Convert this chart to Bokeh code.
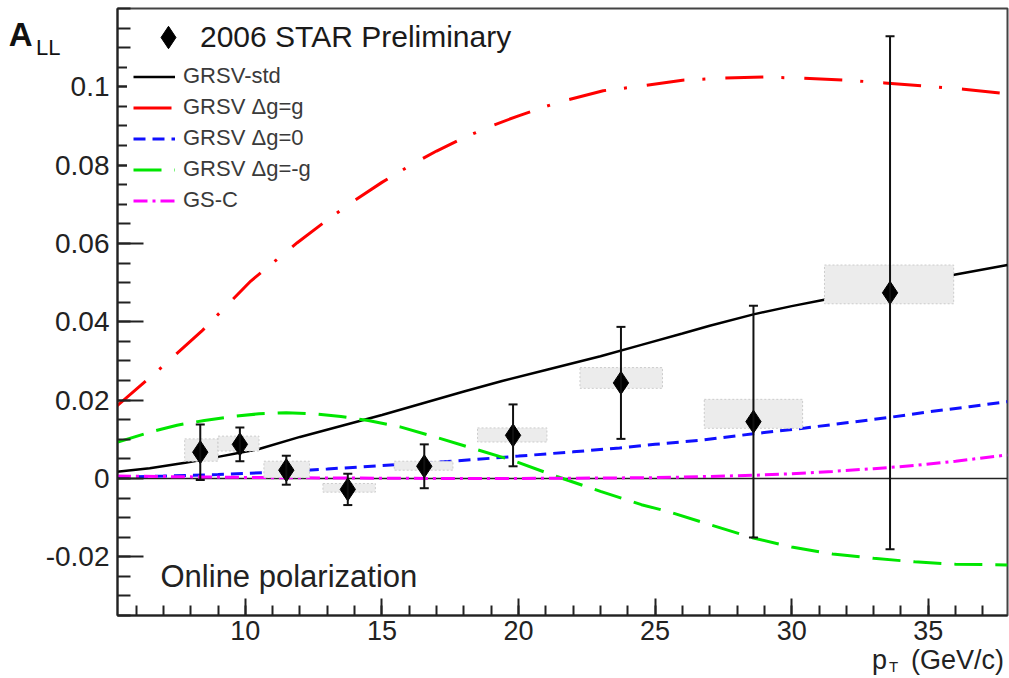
from bokeh.plotting import figure
from bokeh.models import (ColumnDataSource, Legend, LegendItem, Whisker, TeeHead,
                          Span, Label, FixedTicker, CustomJSTickFormatter, LinearAxis)
from bokeh.embed import file_html
from bokeh.resources import INLINE

# ---------------- data ----------------
pt = [8.35, 9.8, 11.5, 13.75, 16.55, 19.8, 23.75, 28.6, 33.6]
a_ll = [0.0067, 0.0087, 0.0021, -0.0028, 0.0031, 0.0110, 0.0244, 0.0145, 0.0474]
stat_err = [0.0071, 0.0043, 0.0037, 0.0040, 0.0056, 0.0079, 0.0143, 0.0296, 0.0655]
sys_left = [7.78, 9.0, 10.68, 12.84, 15.45, 18.5, 22.25, 26.8, 31.2]
sys_right = [9.0, 10.5, 12.35, 14.76, 17.6, 21.04, 25.27, 30.4, 35.93]
sys_low = [0.0044, 0.0070, 0.0002, -0.0035, 0.0021, 0.0093, 0.0230, 0.0128, 0.0446]
sys_high = [0.0101, 0.0108, 0.0044, -0.0013, 0.0044, 0.0129, 0.0283, 0.0202, 0.0545]

std_x = [5.3, 6.5, 7.8, 9.0, 10.5, 12.0, 13.5, 15.0, 16.5, 18.0, 19.4, 21.0, 23.0,
         24.5, 26.0, 27.0, 28.6, 30.0, 31.1, 32.5, 34.0, 36.0, 37.9]
std_y = [0.0017, 0.0026, 0.0040, 0.0055, 0.0075, 0.0106, 0.0134, 0.0162, 0.0192, 0.0222,
         0.0249, 0.0277, 0.0312, 0.0341, 0.0370, 0.0390, 0.0419, 0.0440, 0.0455, 0.0474,
         0.0494, 0.0521, 0.0545]

g_x = [5.3, 7.05, 8.4, 10.2, 11.9, 13.0, 14.0, 15.0, 16.0, 17.0, 18.0, 19.0, 20.0, 21.0,
       21.55, 23.1, 24.5, 26.0, 27.4, 29.0, 30.4, 32.0, 33.4, 34.9, 36.3, 37.9]
g_y = [0.0185, 0.0291, 0.0376, 0.0504, 0.0602, 0.0660, 0.0710, 0.0756, 0.0798, 0.0836,
       0.0870, 0.0900, 0.0926, 0.0950, 0.0962, 0.0990, 0.1002, 0.1017, 0.1022, 0.1025,
       0.1022, 0.1017, 0.1010, 0.1002, 0.0994, 0.0982]

zero_x = [5.3, 7.0, 9.0, 11.0, 13.0, 15.0, 17.6, 20.0, 22.0, 23.7, 25.0, 26.7, 28.6,
          30.5, 32.0, 33.6, 35.0, 36.5, 37.9]
zero_y = [0.0003, 0.0006, 0.0010, 0.0016, 0.0024, 0.0033, 0.0044, 0.0057, 0.0068, 0.0078,
          0.0087, 0.0098, 0.0114, 0.0129, 0.0142, 0.0156, 0.0170, 0.0183, 0.0196]

neg_x = [5.3, 6.5, 7.5, 8.5, 9.5, 10.5, 11.5, 12.5, 13.5, 14.5, 15.7, 17.0, 18.5, 19.7,
         21.4, 23.0, 24.5, 25.5, 27.0, 28.6, 30.0, 31.5, 33.0, 34.5, 36.0, 37.9]
neg_y = [0.0092, 0.0118, 0.0136, 0.0148, 0.0158, 0.0165, 0.0168, 0.0165, 0.0158, 0.0148,
         0.0131, 0.0105, 0.0073, 0.0048, 0.0005, -0.0033, -0.0067, -0.0085, -0.0118,
         -0.0152, -0.0175, -0.0193, -0.0204, -0.0213, -0.0219, -0.0221]

gsc_x = [5.3, 8.0, 11.0, 14.0, 17.0, 20.0, 23.0, 25.0, 27.0, 28.6, 30.0, 31.5, 33.0,
         34.5, 36.0, 37.9]
gsc_y = [0.0006, 0.0004, 0.0002, 0.0001, 0.0000, 0.0000, 0.0001, 0.0002, 0.0005, 0.0008,
         0.0012, 0.0018, 0.0025, 0.0033, 0.0044, 0.0060]

x_major = [10, 15, 20, 25, 30, 35]
y_major = [-0.02, 0.0, 0.02, 0.04, 0.06, 0.08, 0.1]

FONT = "Liberation Sans"
X0, X1 = 5.32, 37.9
Y0, Y1 = -0.035, 0.12
L, R, T, B = 117, 2, 8, 63
W, H = 1009, 678
FW, FH = W - L - R, H - T - B


def px2x(px):
    return X0 + (px - L) * (X1 - X0) / FW


def py2y(py):
    return Y1 - (py - T) * (Y1 - Y0) / FH


p = figure(width=W, height=H, x_range=(X0, X1), y_range=(Y0, Y1),
           output_backend="svg", toolbar_location=None,
           min_border_left=L, min_border_right=R, min_border_top=T, min_border_bottom=B)
p.xgrid.visible = False
p.ygrid.visible = False
p.outline_line_color = "#444444"
p.outline_line_width = 2
p.background_fill_color = "white"
p.border_fill_color = "white"

p.xaxis.ticker = FixedTicker(ticks=x_major, minor_ticks=list(range(6, 38)))
p.yaxis.ticker = FixedTicker(ticks=y_major,
                             minor_ticks=[round(-0.035 + 0.005 * i, 3) for i in range(32)])
p.yaxis.formatter = CustomJSTickFormatter(
    code="return tick == 0 ? '0' : (Math.round(tick*1000)/1000).toString();")
for ax in (p.xaxis, p.yaxis):
    ax.axis_line_width = 2
    ax.axis_line_color = "#222222"
    ax.major_tick_line_width = 2
    ax.minor_tick_line_width = 2
    ax.major_tick_line_color = "#222222"
    ax.minor_tick_line_color = "#222222"
    ax.major_tick_out = 0
    ax.minor_tick_out = 0
    ax.major_label_text_font = FONT
    ax.major_label_text_color = "#222222"
p.yaxis.major_label_text_font_size = "28px"
p.xaxis.major_label_text_font_size = "27px"
p.yaxis.major_tick_in = 26
p.yaxis.minor_tick_in = 13
p.yaxis.major_label_standoff = 8
p.xaxis.major_tick_in = 17
p.xaxis.minor_tick_in = 10
p.xaxis.major_label_standoff = 5


def text_axis(side, ticks, labels, size, standoff, color="#222222", style="normal"):
    js_labels = "[" + ",".join("'%s'" % s for s in labels) + "]"
    ax = LinearAxis(ticker=FixedTicker(ticks=ticks, minor_ticks=[]),
                    formatter=CustomJSTickFormatter(code="return %s[index];" % js_labels),
                    axis_line_color=None, major_tick_line_color=None,
                    minor_tick_line_color=None, major_tick_in=0, major_tick_out=0,
                    minor_tick_in=0, minor_tick_out=0,
                    major_label_text_font=FONT, major_label_text_font_size=size,
                    major_label_text_font_style=style,
                    major_label_text_color=color, major_label_standoff=standoff)
    p.add_layout(ax, side)
    return ax


# axis titles: A_LL (left) and p_T (GeV/c) (below), placed in the side panels
text_axis("left", [py2y(47)], ["LL"], "22px", -18, "#111111")
text_axis("left", [py2y(34)], ["A"], "33px", 1, "#111111", "bold")
text_axis("below", [px2x(879), px2x(957)], ["p", "(GeV/c)"], "27px", 2)
text_axis("below", [px2x(893)], ["T"], "15px", -20)

# zero line
p.add_layout(Span(location=0, dimension="width", line_color="#222222",
                  line_width=1.5, level="underlay"))

# theory curves
r_std = p.line(std_x, std_y, line_color="black", line_width=2.5)
r_g = p.line(g_x, g_y, line_color="#ff0000", line_width=3, line_dash="38 18 3 20")
r_0 = p.line(zero_x, zero_y, line_color="#1010ff", line_width=3, line_dash="12 7")
r_neg = p.line(neg_x, neg_y, line_color="#00e600", line_width=3, line_dash="28 13")
r_gsc = p.line(gsc_x, gsc_y, line_color="#ff00ff", line_width=3, line_dash="14 5 3 5")

# systematic boxes
p.quad(left=sys_left, right=sys_right, bottom=sys_low, top=sys_high,
       fill_color="#ececec", line_color="#cccccc", line_width=1, line_dash="2 2")

# data
upper = [a + e for a, e in zip(a_ll, stat_err)]
lower = [a - e for a, e in zip(a_ll, stat_err)]
src = ColumnDataSource(dict(x=pt, y=a_ll, upper=upper, lower=lower))
p.add_layout(Whisker(source=src, base="x", upper="upper", lower="lower",
                     dimension="height", line_width=2, line_color="#111111", level="overlay",
                     upper_head=TeeHead(size=9, line_width=2, line_color="#111111"),
                     lower_head=TeeHead(size=9, line_width=2, line_color="#111111")))
r_data = p.scatter("x", "y", source=src, marker="diamond", size=23,
                   fill_color="black", line_color="black")

# legends
leg1 = Legend(items=[LegendItem(label="2006 STAR Preliminary", renderers=[r_data])],
              location=(23, 550), glyph_width=56, glyph_height=56, label_height=34,
              padding=0, margin=0, label_standoff=4, spacing=0,
              label_text_font=FONT, label_text_font_size="30px",
              label_text_color="#1a1a1a", background_fill_alpha=0, border_line_alpha=0)
leg2 = Legend(items=[LegendItem(label="GRSV-std", renderers=[r_std]),
                     LegendItem(label="GRSV \u0394g=g", renderers=[r_g]),
                     LegendItem(label="GRSV \u0394g=0", renderers=[r_0]),
                     LegendItem(label="GRSV \u0394g=-g", renderers=[r_neg]),
                     LegendItem(label="GS-C", renderers=[r_gsc])],
              location=(10, 396), glyph_width=42, glyph_height=25, label_height=25,
              padding=6, margin=0, label_standoff=8, spacing=5,
              label_text_font=FONT, label_text_font_size="22px",
              label_text_color="#3a3a3a", background_fill_color="white",
              background_fill_alpha=1, border_line_alpha=0)
p.add_layout(leg1)
p.add_layout(leg2)

# text inside the frame
p.add_layout(Label(x=px2x(160), y=py2y(576), text="Online polarization",
                   text_font=FONT, text_font_size="31px", text_color="#222222",
                   text_baseline="alphabetic"))

open("out.html", "w").write(file_html(p, INLINE))
